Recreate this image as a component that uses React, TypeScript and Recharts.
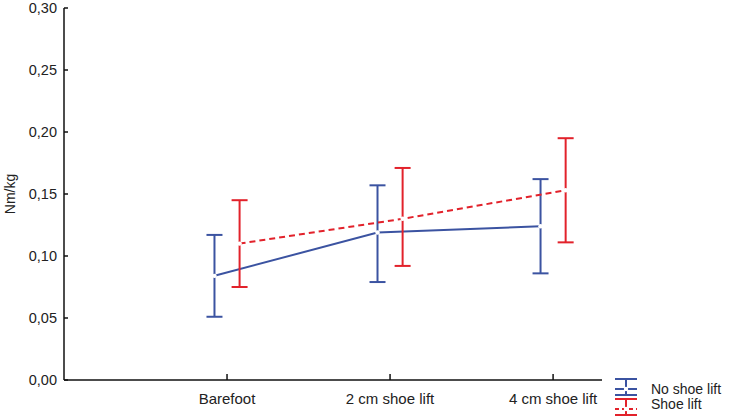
import React from 'react';
import { LineChart, Line, XAxis, YAxis, ErrorBar, Legend, Label } from 'recharts';

// categories and measured values (Nm/kg)
const categories = ['Barefoot', '2 cm shoe lift', '4 cm shoe lift'];

const noLiftMean = [0.084, 0.119, 0.124];
const noLiftLow = [0.051, 0.079, 0.086];
const noLiftHigh = [0.117, 0.157, 0.162];

const liftMean = [0.110, 0.130, 0.153];
const liftLow = [0.075, 0.092, 0.111];
const liftHigh = [0.145, 0.171, 0.195];

const yTicks = [0, 0.05, 0.1, 0.15, 0.2, 0.25, 0.3];

const BLUE = '#3b53a1';
const RED = '#e2222b';
const FONT = '"Liberation Sans", Arial, sans-serif';

// small horizontal shift so the two series don't overlap
const SHIFT = 0.077;

const buildSeries = (mean: number[], low: number[], high: number[], shift: number) =>
    mean.map((m, i) => ({
        x: i + 1 + shift,
        y: m,
        err: [m - low[i], high[i] - m],
    }));

const noLiftData = buildSeries(noLiftMean, noLiftLow, noLiftHigh, -SHIFT);
const liftData = buildSeries(liftMean, liftLow, liftHigh, SHIFT);

const fmt = (v: number) => v.toFixed(2).replace('.', ',');

const LegendIcon = ({ color, dashed, y }: { color: string; dashed: boolean; y: number }) => (
    <g>
        <line x1={3} x2={25} y1={y - 10} y2={y - 10} stroke={color} strokeWidth={2} />
        <line x1={14} x2={14} y1={y - 10} y2={y + 6} stroke={color} strokeWidth={2} />
        <line
            x1={3}
            x2={25}
            y1={y}
            y2={y}
            stroke={color}
            strokeWidth={2}
            strokeDasharray={dashed ? '4 3' : undefined}
        />
        <circle cx={14} cy={y} r={2.2} fill="#fff" />
        <line x1={3} x2={25} y1={y + 6} y2={y + 6} stroke={color} strokeWidth={2} />
    </g>
);

const renderLegend = () => (
    <svg width={120} height={44} style={{ overflow: 'visible' }}>
        <LegendIcon color={BLUE} dashed={false} y={13} />
        <LegendIcon color={RED} dashed={true} y={33} />
        <text x={39} y={18} fontSize={14} fill="#222" fontFamily={FONT}>No shoe lift</text>
        <text x={39} y={32.5} fontSize={14} fill="#222" fontFamily={FONT}>Shoe lift</text>
    </svg>
);

const YLabel = (props: any) => {
    const vb = props.viewBox || {};
    const cx = (vb.x ?? 0) + 10;
    const cy = (vb.y ?? 0) + (vb.height ?? 0) / 2;
    return (
        <text
            x={cx}
            y={cy}
            transform={`rotate(-90, ${cx}, ${cy})`}
            textAnchor="middle"
            dominantBaseline="central"
            fontSize={14}
            fill="#222"
            fontFamily={FONT}
        >
            Nm/kg
        </text>
    );
};

export default function App() {
    return (
        <div style={{ position: 'absolute', left: 0, top: 0, width: 732, height: 420, background: '#fff' }}>
            <LineChart
                width={732}
                height={420}
                margin={{ top: 8, right: 130, left: 0, bottom: 0 }}
                style={{ fontFamily: FONT }}
            >
                <XAxis
                    type="number"
                    dataKey="x"
                    domain={[0, 3.3]}
                    ticks={[1, 2, 3]}
                    tickFormatter={(v: number) => categories[v - 1] ?? ''}
                    height={40}
                    tickSize={-6}
                    tickMargin={19}
                    stroke="#111"
                    strokeWidth={1.5}
                    tick={{ fill: '#222', fontSize: 15 }}
                    allowDuplicatedCategory={false}
                />
                <YAxis
                    type="number"
                    domain={[0, 0.3]}
                    ticks={yTicks}
                    tickFormatter={fmt}
                    width={64}
                    tickSize={-4}
                    tickMargin={11}
                    stroke="#111"
                    strokeWidth={1.5}
                    tick={{ fill: '#222', fontSize: 14.5 }}
                    interval={0}
                >
                    <Label content={<YLabel />} />
                </YAxis>
                <Legend
                    content={renderLegend}
                    layout="vertical"
                    align="center"
                    verticalAlign="middle"
                    wrapperStyle={{ position: 'absolute', left: 612, top: 376, width: 120, height: 44 }}
                />
                <Line
                    data={noLiftData}
                    dataKey="y"
                    name="No shoe lift"
                    stroke={BLUE}
                    strokeWidth={2}
                    dot={{ r: 2.2, fill: '#fff', stroke: 'none' }}
                    activeDot={false}
                    isAnimationActive={false}
                >
                    <ErrorBar dataKey="err" direction="y" width={8} stroke={BLUE} strokeWidth={2} />
                </Line>
                <Line
                    data={liftData}
                    dataKey="y"
                    name="Shoe lift"
                    stroke={RED}
                    strokeWidth={2}
                    strokeDasharray="6 4"
                    dot={{ r: 2.2, fill: '#fff', stroke: 'none' }}
                    activeDot={false}
                    isAnimationActive={false}
                >
                    <ErrorBar dataKey="err" direction="y" width={8} stroke={RED} strokeWidth={2} />
                </Line>
            </LineChart>
        </div>
    );
}
